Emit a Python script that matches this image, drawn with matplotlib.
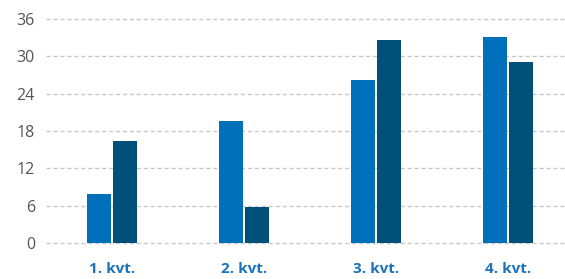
import matplotlib
matplotlib.use("Agg")
import matplotlib.pyplot as plt
import numpy as np

categories = ["1. kvt.", "2. kvt.", "3. kvt.", "4. kvt."]
series_a = [7.9, 19.6, 26.2, 33.1]
series_b = [16.4, 5.8, 32.6, 29.1]
yticks = [0, 6, 12, 18, 24, 30, 36]

plt.rcParams['font.family'] = ['Open Sans', 'DejaVu Sans']

W, H = 565, 279
fig = plt.figure(figsize=(W/100, H/100), dpi=100)
ax_left, ax_right = 46, 565
y_top, y_bot = 19, 243
ax = fig.add_axes([ax_left/W, 1 - y_bot/H, (ax_right-ax_left)/W, (y_bot-y_top)/H])

x = np.arange(len(categories))
px = 132.0
bw = 24/px
gap = 2/px
ax.bar(x - bw/2 - gap/2, series_a, width=bw, color="#0070BA", zorder=3)
ax.bar(x + bw/2 + gap/2, series_b, width=bw, color="#00507A", zorder=3)

ax.set_xlim(-0.5, -0.5 + (ax_right-ax_left)/px)
ax.set_ylim(0, 36)
ax.set_yticks(yticks)
ax.set_yticklabels([str(v) for v in yticks], color="#555555", fontsize=11.5)
ax.set_xticks(x)
ax.set_xticklabels(categories, color="#1a73ba", fontsize=11, fontweight="bold")
ax.tick_params(axis='y', length=0, pad=8)
ax.tick_params(axis='x', length=0, pad=14)
ax.grid(axis='y', color="#c8c8c8", linestyle=(0, (3, 2)), linewidth=1, zorder=0)
ax.grid(axis='x', visible=False)
for gl in ax.get_ygridlines():
    gl.set_clip_on(False)
for s in ax.spines.values():
    s.set_visible(False)

fig.savefig("out.png", dpi=100)
